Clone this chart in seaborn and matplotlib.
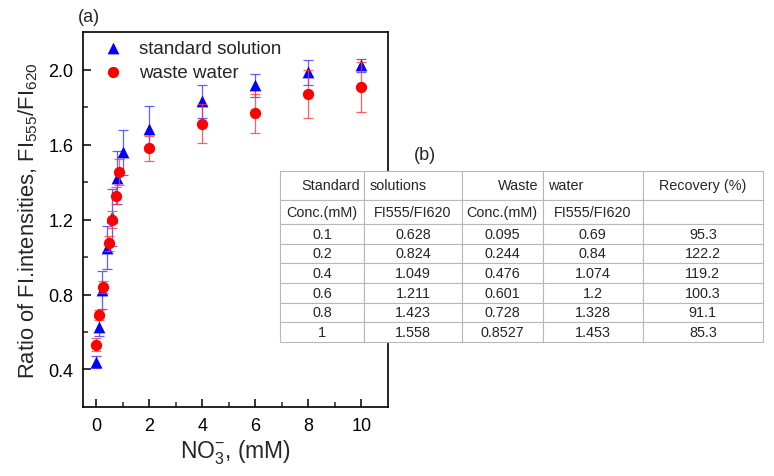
import numpy as np
import pandas as pd
import matplotlib
matplotlib.use('Agg')
import matplotlib.pyplot as plt
import seaborn as sns

# ---------------- data ----------------
std_x = [0, 0.1, 0.2, 0.4, 0.6, 0.8, 1, 2, 4, 6, 8, 10]
std_y = [0.44, 0.628, 0.824, 1.049, 1.211, 1.423, 1.558, 1.685, 1.83, 1.915, 1.985, 2.022]
std_err = [0.03, 0.05, 0.10, 0.115, 0.15, 0.14, 0.12, 0.12, 0.09, 0.06, 0.065, 0.035]

ww_x = [0, 0.095, 0.244, 0.476, 0.601, 0.728, 0.8527, 2, 4, 6, 8, 10]
ww_y = [0.532, 0.69, 0.84, 1.074, 1.2, 1.328, 1.453, 1.58, 1.711, 1.768, 1.872, 1.907]
ww_err = [0.035, 0.025, 0.03, 0.04, 0.045, 0.045, 0.07, 0.066, 0.105, 0.104, 0.128, 0.135]

xticks = [0, 2, 4, 6, 8, 10]
yticks = [0.4, 0.8, 1.2, 1.6, 2.0]

tbl_header1 = ['Standard', 'solutions', 'Waste', 'water', 'Recovery (%)']
tbl_header2 = ['Conc.(mM)', 'FI555/FI620', 'Conc.(mM)', 'FI555/FI620', '']
std_conc = ['0.1', '0.2', '0.4', '0.6', '0.8', '1']
std_ratio = ['0.628', '0.824', '1.049', '1.211', '1.423', '1.558']
ww_conc = ['0.095', '0.244', '0.476', '0.601', '0.728', '0.8527']
ww_ratio = ['0.69', '0.84', '1.074', '1.2', '1.328', '1.453']
recovery = ['95.3', '122.2', '119.2', '100.3', '91.1', '85.3']

# ---------------- style ----------------
sns.set_theme(style='ticks')
plt.rcParams['font.family'] = ['Liberation Sans', 'DejaVu Sans']
plt.rcParams['mathtext.fontset'] = 'custom'
plt.rcParams['mathtext.rm'] = 'Liberation Sans'
plt.rcParams['mathtext.it'] = 'Liberation Sans:italic'
plt.rcParams['mathtext.default'] = 'regular'

fig = plt.figure(figsize=(7.74, 4.77), dpi=100)
ax = fig.add_axes([0.1072, 0.1447, 0.394, 0.786])

df_std = pd.DataFrame({'x': std_x, 'y': std_y})
df_ww = pd.DataFrame({'x': ww_x, 'y': ww_y})

ax.errorbar(std_x, std_y, yerr=std_err, fmt='none', ecolor='#3a3aff', alpha=0.8,
            elinewidth=0.9, capsize=3.5, capthick=0.9, zorder=2)
sns.scatterplot(data=df_std, x='x', y='y', marker='^', color='#0000ff', s=72,
                linewidth=0, ax=ax, zorder=3, label='standard solution')
ax.errorbar(ww_x, ww_y, yerr=ww_err, fmt='none', ecolor='#ff3a3a', alpha=0.8,
            elinewidth=0.9, capsize=3.5, capthick=0.9, zorder=4)
sns.scatterplot(data=df_ww, x='x', y='y', marker='o', color='#ff0000', s=66,
                linewidth=0, ax=ax, zorder=5, label='waste water')

ax.set_xlim(-0.5, 11)
ax.set_ylim(0.2, 2.2)
ax.set_xticks(xticks)
ax.set_yticks(yticks)
ax.set_xticks([1, 3, 5, 7, 9], minor=True)
ax.set_yticks([0.6, 1.0, 1.4, 1.8], minor=True)
ax.set_xticklabels([str(t) for t in xticks])
ax.set_yticklabels([f'{t:.1f}' for t in yticks])
ax.tick_params(axis='both', which='major', direction='in', length=6, width=1.1,
               labelsize=13, pad=7, colors='black')
ax.tick_params(axis='both', which='minor', direction='in', length=3.5, width=1.1)
for sp in ax.spines.values():
    sp.set_visible(True)
    sp.set_linewidth(1.2)
    sp.set_color('black')

ax.set_xlabel(r'NO$_3^{-}$, (mM)', fontsize=16.5, labelpad=3)
ax.set_ylabel(r'Ratio of FI.intensities, FI$_{555}$/FI$_{620}$', fontsize=15.8, labelpad=6)

ax.legend(loc='upper left', bbox_to_anchor=(0.043, 1.0), frameon=False, fontsize=13.5,
          handlelength=1.0, handletextpad=0.9, labelspacing=0.38, borderaxespad=0)

fig.text(78 / 774, 1 - 17.5 / 477, '(a)', fontsize=13, ha='left', va='center')
fig.text(425 / 774, 1 - 155 / 477, '(b)', fontsize=13, ha='center', va='center')

# ---------------- table ----------------
tax = fig.add_axes([280 / 774, 1 - 343 / 477, 483 / 774, 171 / 477])
tax.axis('off')
cell_text = [tbl_header1, tbl_header2] + [list(r) for r in zip(std_conc, std_ratio, ww_conc, ww_ratio, recovery)]
col_w = [84.3, 97.4, 81.0, 100.0, 120.3]
tbl = tax.table(cellText=cell_text, cellLoc='center', bbox=[0, 0, 1, 1], colWidths=[w / sum(col_w) for w in col_w])
tbl.auto_set_font_size(False)
row_h = [29, 24] + [19.7] * 6
h_aligns = {0: 'right', 1: 'left', 2: 'right', 3: 'left', 4: 'center'}
for (r, c), cell in tbl.get_celld().items():
    cell.set_height(row_h[r] / sum(row_h))
    cell.set_edgecolor('#b8b8b8')
    cell.set_linewidth(0.8)
    cell.set_facecolor('white')
    cell.PAD = 0.05
    cell.get_text().set_fontsize(10.4)
    if r == 0:
        cell._loc = h_aligns[c]
        cell.get_text().set_ha(h_aligns[c])

fig.savefig('out.png', dpi=100)
